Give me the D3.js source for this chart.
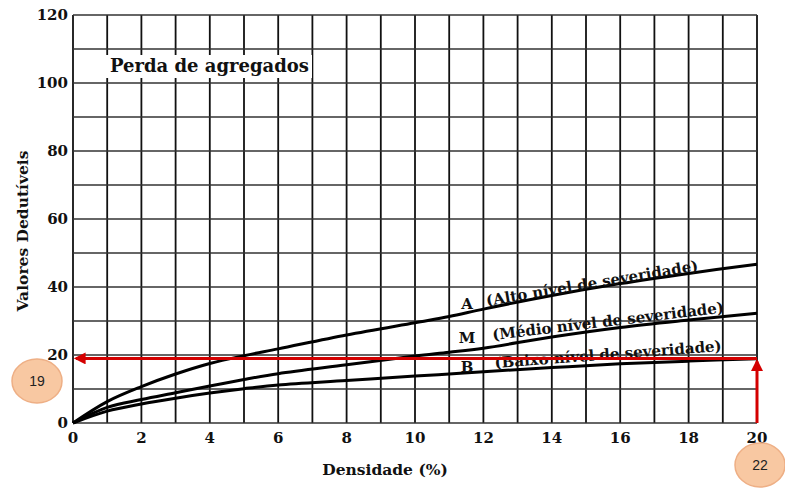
<!DOCTYPE html>
<html><head><meta charset="utf-8">
<script src="https://cdn.jsdelivr.net/npm/d3@7"></script>
<style>body{margin:0;background:#fff}svg{display:block}</style>
</head><body><svg id="c" width="785" height="494"></svg>
<script>
const densidade = [0,1,2,3,4,5,6,8,10,11,12,14,16,18,20];
const altoSev   = [0,6.3,10.7,14.4,17.5,19.8,21.8,25.9,29.5,31.3,33.5,37.5,41.0,44.0,46.7];
const medioSev  = [0,4.6,6.9,8.9,10.9,12.8,14.5,17.1,19.7,20.8,22.0,25.3,28.1,30.3,32.3];
const baixoSev  = [0,3.5,5.6,7.3,8.8,10.1,11.2,12.5,13.8,14.4,15.1,16.3,17.4,18.2,18.9];
const xTicks = [0,2,4,6,8,10,12,14,16,18,20];
const yTicks = [0,20,40,60,80,100,120];
const seriesNames = ["A","M","B"];
const seriesLabels = ["(Alto nível de severidade)","(Médio nível de severidade)","(Baixo nível de severidade)"];
const leitura = {x:20, y:19};
const badges = ["19","22"];
const title = "Perda de agregados";
const xTitle = "Densidade (%)";
const yTitle = "Valores Dedutíveis";

const svg = d3.select("#c");
const x = d3.scaleLinear().domain([0,20]).range([73,757]);
const y = d3.scaleLinear().domain([0,120]).range([423,15]);
const serif = "'DejaVu Serif', serif";

const g = svg.append("g");
// grid
g.selectAll("line.v").data(d3.range(0,21)).join("line")
  .attr("x1",d=>x(d)).attr("x2",d=>x(d)).attr("y1",y(0)).attr("y2",y(120))
  .attr("stroke","#111").attr("stroke-width",1.8);
g.selectAll("line.h").data(d3.range(0,121,10)).join("line")
  .attr("x1",x(0)).attr("x2",x(20)).attr("y1",d=>y(d)).attr("y2",d=>y(d))
  .attr("stroke","#333").attr("stroke-width",1.6);

// title box
const tb = g.append("g");
tb.append("rect").attr("x",106).attr("y",55).attr("width",206).attr("height",23).attr("fill","#fff");
tb.append("text").attr("x",110).attr("y",72).attr("font-family",serif).attr("font-weight","bold")
  .attr("font-size",18).attr("fill","#111").text(title);

// tick labels
g.selectAll("text.xt").data(xTicks).join("text").attr("x",d=>x(d)).attr("y",y(0)+20)
  .attr("text-anchor","middle").attr("font-family",serif).attr("font-weight","bold").attr("font-size",15).attr("fill","#111").text(d=>d);
g.selectAll("text.yt").data(yTicks).join("text").attr("x",x(0)-5).attr("y",d=>y(d)+5)
  .attr("text-anchor","end").attr("font-family",serif).attr("font-weight","bold").attr("font-size",15).attr("fill","#111").text(d=>d);

// axis titles
g.append("text").attr("x",385).attr("y",475).attr("text-anchor","middle").attr("font-family",serif)
  .attr("font-weight","bold").attr("font-size",15.5).attr("fill","#111").text(xTitle);
g.append("text").attr("transform","translate(28,231) rotate(-90)").attr("text-anchor","middle").attr("font-family",serif)
  .attr("font-weight","bold").attr("font-size",15.5).attr("fill","#111").text(yTitle);

// curves
const line = d3.line().x((d,i)=>x(densidade[i])).y(d=>y(d)).curve(d3.curveCatmullRom.alpha(0.5));
[altoSev,medioSev,baixoSev].forEach(s=>{
  g.append("path").attr("d",line(s)).attr("fill","none").attr("stroke","#000").attr("stroke-width",3);
});

// series labels (pixel placement)
const lab = [
  {lx:467, ly:309, tx:487, ty:306, ang:-9.5},
  {lx:467, ly:343, tx:493, ty:340, ang:-6.8},
  {lx:467, ly:372, tx:495, ty:368, ang:-4.3}
];
lab.forEach((p,i)=>{
  g.append("text").attr("x",p.lx).attr("y",p.ly).attr("text-anchor","middle").attr("font-family",serif)
    .attr("font-weight","bold").attr("font-size",15).attr("fill","#111").text(seriesNames[i]);
  g.append("text").attr("transform",`translate(${p.tx},${p.ty}) rotate(${p.ang})`).attr("font-family",serif)
    .attr("font-weight","bold").attr("font-size",15).attr("fill","#111").text(seriesLabels[i]);
});

// red reading lines
const defs = svg.append("defs");
defs.append("marker").attr("id","arr").attr("viewBox","0 0 10 10").attr("refX",8).attr("refY",5)
  .attr("markerWidth",4).attr("markerHeight",4).attr("orient","auto-start-reverse").attr("markerUnits","strokeWidth")
  .append("path").attr("d","M0,0 L10,5 L0,10 z").attr("fill","#d40000");
g.append("line").attr("x1",x(leitura.x)).attr("x2",x(0)+3).attr("y1",y(leitura.y)).attr("y2",y(leitura.y))
  .attr("stroke","#d40000").attr("stroke-width",3).attr("marker-end","url(#arr)");
g.append("line").attr("x1",x(leitura.x)).attr("x2",x(leitura.x)).attr("y1",y(0)).attr("y2",y(leitura.y)+3)
  .attr("stroke","#d40000").attr("stroke-width",3).attr("marker-end","url(#arr)");

// badges
const bpos = [{cx:37, cy:381},{cx:760, cy:465}];
bpos.forEach((b,i)=>{
  g.append("ellipse").attr("cx",b.cx).attr("cy",b.cy).attr("rx",25).attr("ry",22)
    .attr("fill","#f8c8a2").attr("stroke","#eeaf85").attr("stroke-width",1.5);
  g.append("text").attr("x",b.cx).attr("y",b.cy+5).attr("text-anchor","middle").attr("font-family","'Liberation Sans', sans-serif")
    .attr("font-size",14).attr("fill","#222").text(badges[i]);
});
</script></body></html>
